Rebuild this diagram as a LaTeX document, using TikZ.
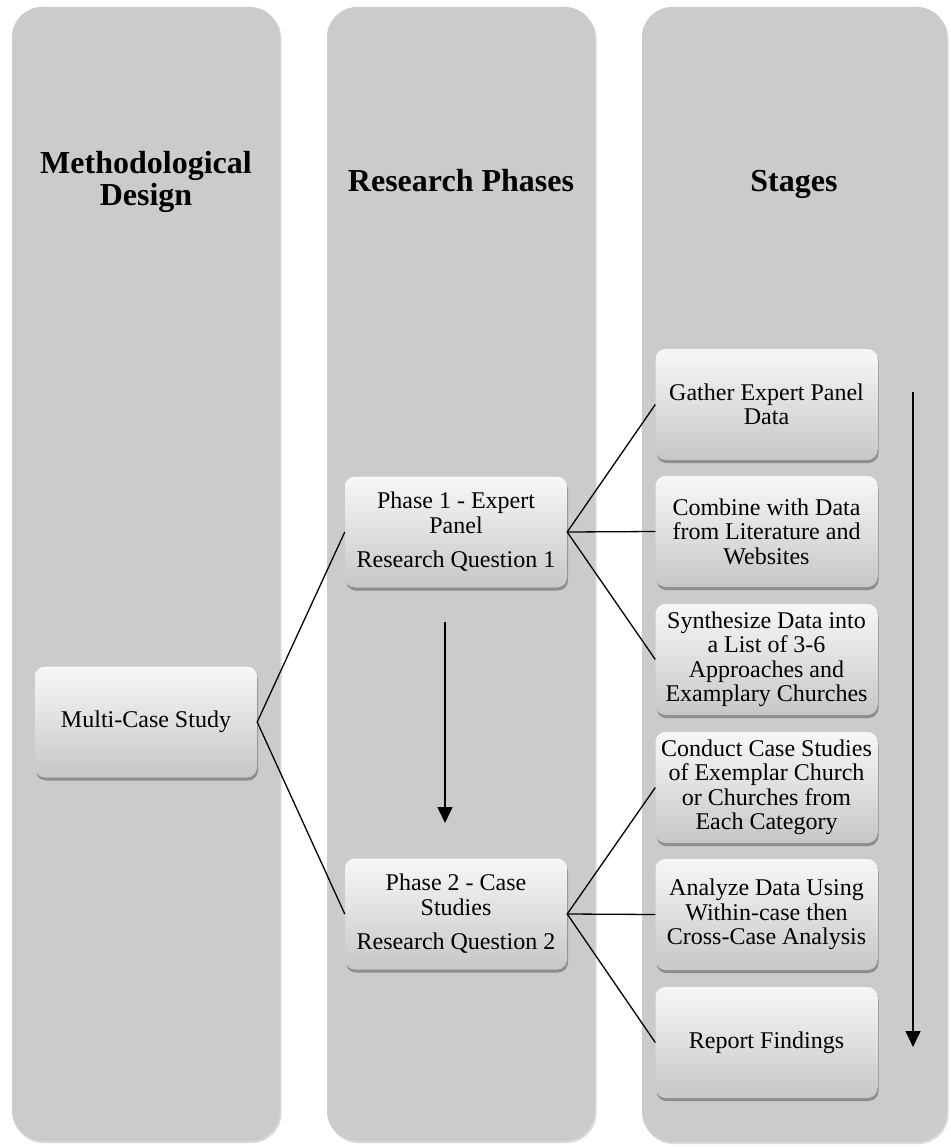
\documentclass[tikz,border=0pt]{standalone}
\usepackage{fontspec}
\setmainfont{Liberation Serif}
\usetikzlibrary{shadows,arrows.meta}
\definecolor{colgray}{HTML}{CBCBCB}
\tikzset{
  colbox/.style={fill=colgray, rounded corners=30pt, draw=none,
    drop shadow={shadow xshift=1.5pt, shadow yshift=-2pt, opacity=0.15, fill=black}},
  stagebox/.style={rounded corners=10pt, minimum width=222pt, minimum height=111pt,
    top color=white!97!black, bottom color=black!22, draw=none, align=center,
    font=\fontsize{24pt}{24.5pt}\selectfont, inner sep=1pt,
    drop shadow={shadow xshift=1pt, shadow yshift=-3pt, opacity=0.3, fill=black}},
  title/.style={font=\fontsize{32pt}{32pt}\selectfont\bfseries, align=center},
  link/.style={line width=1.3pt, black},
  flow/.style={line width=1.5pt, black, -{Triangle[length=16pt,width=15pt]}}
}
\begin{document}
\begin{tikzpicture}[x=1pt,y=-1pt]
\useasboundingbox (0,0) rectangle (950,1147);
% columns
\path[colbox] (12,7) rectangle (280,1141);
\path[colbox] (327,7) rectangle (595,1141);
\path[colbox] (642,7) rectangle (947,1142);
% titles
\node[title] (t1) at (146,182) {Methodological\\Design};
\node[title, anchor=base] (t2) at (461,192) {Research Phases};
\node[title, anchor=base] (t3) at (794,192) {Stages};
% boxes
\node[stagebox] (ms) at (146,722) {Multi-Case Study};
\node[stagebox] (p1) at (456,532) {Phase 1 - Expert\\Panel\\[10pt]Research Question 1};
\node[stagebox] (p2) at (456,914) {Phase 2 - Case\\Studies\\[10pt]Research Question 2};
\node[stagebox] (s1) at (766.5,404.5) {Gather Expert Panel\\Data};
\node[stagebox] (s2) at (766.5,531.5) {Combine with Data\\from Literature and\\Websites};
\node[stagebox] (s3) at (766.5,659.5) {Synthesize Data into\\a List of 3-6\\Approaches and\\Examplary Churches};
\node[stagebox] (s4) at (766.5,787.5) {Conduct Case Studies\\of Exemplar Church\\or Churches from\\Each Category};
\node[stagebox] (s5) at (766.5,914.5) {Analyze Data Using\\Within-case then\\Cross-Case Analysis};
\node[stagebox] (s6) at (766.5,1042.5) {Report Findings};
% connectors
\draw[link] (p1.west) -- (ms.east) -- (p2.west);
\draw[link] (s1.west) -- (p1.east) -- (s3.west);
\draw[link] (p1.east) -- (s2.west);
\draw[link] (s4.west) -- (p2.east) -- (s6.west);
\draw[link] (p2.east) -- (s5.west);
% flow arrows
\coordinate (a1) at (445,622);
\coordinate (a2) at (445,823);
\coordinate (b1) at (913,392);
\coordinate (b2) at (913,1047);
\draw[flow] (a1) -- (a2);
\draw[flow] (b1) -- (b2);
\end{tikzpicture}
\end{document}
